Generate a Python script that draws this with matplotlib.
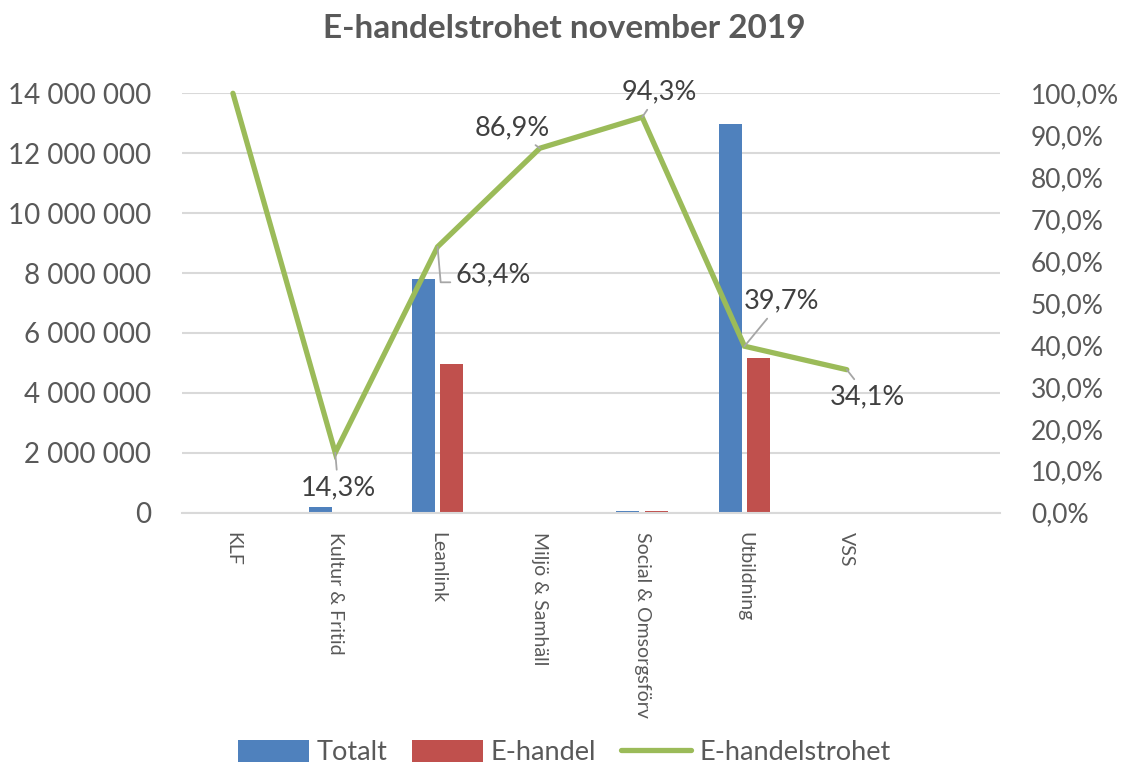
import numpy as np
import matplotlib.pyplot as plt
from matplotlib.ticker import FuncFormatter

plt.rcParams['font.family'] = ['Lato', 'DejaVu Sans']

# data
categories = ["KLF", "Kultur & Fritid", "Leanlink", "Miljö & Samhäll",
              "Social & Omsorgsförv", "Utbildning", "VSS", ""]
totalt = [3000, 200000, 7800000, 10000, 50000, 12970000, 8000]
ehandel = [3000, 28600, 4950000, 8690, 47150, 5150000, 2730]
trohet = [1.000, 0.143, 0.634, 0.869, 0.943, 0.397, 0.341]

# label offsets (pixels) for each data label, None = no label
label_off = [None, (3, -35), (56, -28), (-28, 20), (17, 25), (37, 45), (21, -27)]

blue = "#4F81BD"
red = "#C0504D"
green = "#9BBB59"
txt = "#595959"

fig = plt.figure(figsize=(11.29, 7.71), dpi=100)
ax = fig.add_axes([0.161, 0.335, 0.725, 0.544])
ax2 = ax.twinx()

x = np.arange(len(totalt))
w = 0.225
b1 = ax.bar(x - 0.14, totalt, w, color=blue, label="Totalt", zorder=2)
b2 = ax.bar(x + 0.14, ehandel, w, color=red, label="E-handel", zorder=2)

ax.set_xlim(-0.5, len(categories) - 0.5)
ax.set_ylim(0, 14000000)
ax.set_yticks(np.arange(0, 14000001, 2000000))
ax.yaxis.set_major_formatter(FuncFormatter(lambda v, p: f"{v:,.0f}".replace(",", " ")))
ax.grid(axis="y", color="#D9D9D9", lw=1.5, zorder=0)
ax.set_axisbelow(True)
ax.set_xticks(np.arange(len(categories)))
ax.set_xticklabels(categories, rotation=-90, fontsize=14, color=txt, va="top")
ax.tick_params(axis="x", length=0, pad=14)
ax.tick_params(axis="y", length=0, labelsize=20, labelcolor=txt, pad=22)

for a in (ax, ax2):
    for s in a.spines.values():
        s.set_visible(False)
ax.spines["bottom"].set_visible(True)
ax.spines["bottom"].set_color("#D9D9D9")
ax.spines["bottom"].set_linewidth(1.5)

line, = ax2.plot(x, trohet, color=green, lw=3.8, label="E-handelstrohet",
                 solid_capstyle="round", solid_joinstyle="miter", clip_on=False, zorder=3)
ax2.set_ylim(0, 1)
ax2.set_yticks(np.arange(0, 1.001, 0.1))
ax2.yaxis.set_major_formatter(FuncFormatter(lambda v, p: f"{v*100:.1f}%".replace(".", ",")))
ax2.tick_params(axis="y", length=0, labelsize=19, labelcolor=txt, pad=22)

for i, v in enumerate(trohet):
    off = label_off[i]
    if off is None:
        continue
    s = f"{v*100:.1f}%".replace(".", ",")
    if i == 2:
        cs = "angle,angleA=0,angleB=95,rad=0"
        rp = (0, 0.2)
    else:
        cs = "arc3"
        rp = (0.5, 0.5)
    ax2.annotate(s, (x[i], v), xytext=off, textcoords="offset pixels",
                 ha="center", va="center", fontsize=19.5, color="#404040",
                 arrowprops=dict(arrowstyle="-", color="#A6A6A6", lw=1.3,
                                 connectionstyle=cs, relpos=rp,
                                 shrinkA=2, shrinkB=0),
                 zorder=4)

fig.suptitle("E-handelstrohet november 2019", y=0.982, fontsize=24,
             fontweight="bold", color=txt)

fig.legend([b1, b2, line], ["Totalt", "E-handel", "E-handelstrohet"],
           loc="lower center", bbox_to_anchor=(0.5, -0.024), ncol=3, frameon=False,
           fontsize=19.5, labelcolor=txt, handlelength=2.6, handleheight=0.85,
           handletextpad=0.3, columnspacing=0.9)

fig.savefig("out.png", dpi=100)
